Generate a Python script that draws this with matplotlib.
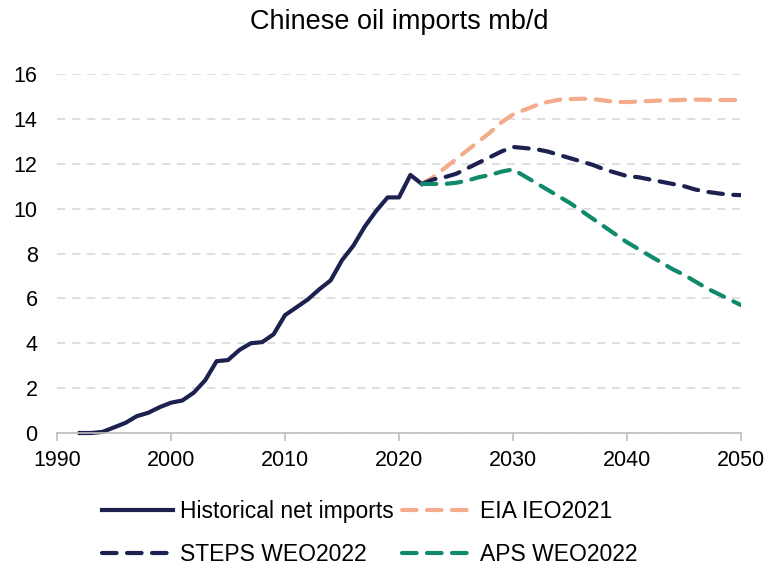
import matplotlib.pyplot as plt

plt.rcParams["font.family"] = ["Liberation Sans", "DejaVu Sans"]

# Historical net imports (mb/d)
hist_years = list(range(1992, 2023))
hist_values = [0.0, 0.0, 0.05, 0.25, 0.45, 0.75, 0.9, 1.15, 1.35, 1.45,
               1.8, 2.35, 3.2, 3.25, 3.7, 4.0, 4.05, 4.4, 5.25, 5.6,
               5.95, 6.4, 6.8, 7.7, 8.35, 9.2, 9.9, 10.5, 10.5, 11.5, 11.1]

# Projections 2022-2050
proj_years = list(range(2022, 2051))
eia_ieo2021 = [11.1, 11.4, 11.8, 12.2, 12.6, 13.0, 13.4, 13.85, 14.2, 14.4,
               14.6, 14.75, 14.85, 14.88, 14.9, 14.88, 14.82, 14.75, 14.75,
               14.77, 14.8, 14.82, 14.83, 14.85, 14.86, 14.85, 14.84, 14.84,
               14.85]
steps_weo2022 = [11.1, 11.3, 11.4, 11.55, 11.8, 12.05, 12.3, 12.55, 12.75,
                 12.7, 12.65, 12.55, 12.4, 12.25, 12.1, 11.95, 11.75, 11.6,
                 11.45, 11.4, 11.3, 11.2, 11.1, 11.0, 10.85, 10.75, 10.68,
                 10.62, 10.6]
aps_weo2022 = [11.1, 11.1, 11.1, 11.15, 11.25, 11.4, 11.5, 11.65, 11.75,
               11.45, 11.15, 10.85, 10.55, 10.25, 9.9, 9.55, 9.2, 8.85, 8.5,
               8.2, 7.9, 7.6, 7.3, 7.05, 6.75, 6.45, 6.2, 5.95, 5.7]

NAVY = "#1c2150"
ORANGE = "#f4ab8b"
GREEN = "#0f8a6c"

fig = plt.figure(figsize=(7.67, 5.65), dpi=100)
ax = fig.add_axes([57 / 767, 1 - 433 / 565, 684 / 767, 359 / 565])

lw = 3.0
dash = dict(linestyle=(0, (3.5, 2.5)), dash_capstyle="round")
h_hist, = ax.plot(hist_years, hist_values, color=NAVY, lw=lw,
                  label="Historical net imports", clip_on=False)
h_eia, = ax.plot(proj_years, eia_ieo2021, color=ORANGE, lw=lw,
                 label="EIA IEO2021", **dash)
h_steps, = ax.plot(proj_years, steps_weo2022, color=NAVY, lw=lw,
                   label="STEPS WEO2022", **dash)
h_aps, = ax.plot(proj_years, aps_weo2022, color=GREEN, lw=lw,
                 label="APS WEO2022", **dash)

ax.set_xlim(1990, 2050)
ax.set_ylim(0, 16)
ax.set_xticks(range(1990, 2051, 10))
ax.set_yticks(range(0, 17, 2))
ax.tick_params(axis="both", labelsize=15.5, colors="#000000")
ax.tick_params(axis="x", direction="out", length=6, width=1.2, color="#bfbfbf", pad=6)
ax.tick_params(axis="y", length=0, pad=14)

ax.grid(axis="y", color="#d9d9d9", linestyle=(0, (5, 4)), linewidth=1.2)
ax.set_axisbelow(True)
for side in ("top", "right", "left"):
    ax.spines[side].set_visible(False)
ax.spines["bottom"].set_color("#bfbfbf")
ax.spines["bottom"].set_linewidth(1.2)

fig.text(399 / 767, 1 - 22 / 565, "Chinese oil imports mb/d", ha="center",
         va="center", fontsize=19.5)

# legend fills column-wise, so order handles to read row by row
handles = [h_hist, h_steps, h_eia, h_aps]
fig.legend(handles=handles, labels=[h.get_label() for h in handles],
           loc="center", bbox_to_anchor=(370 / 767, 1 - 533 / 565), ncol=2,
           frameon=False, fontsize=16.5, handlelength=3.1, handletextpad=0.3,
           columnspacing=0.35, labelspacing=0.85)

fig.savefig("out.png", dpi=100)
